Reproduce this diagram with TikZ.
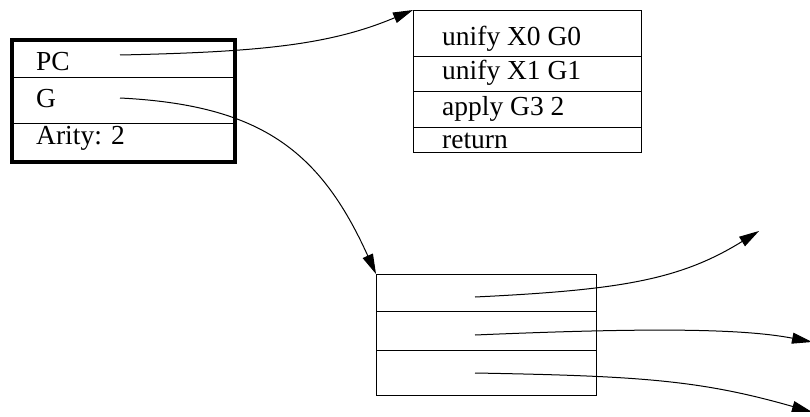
\documentclass[tikz,border=0pt]{standalone}
\usepackage{fontspec}
\setmainfont{Liberation Serif}
\usetikzlibrary{arrows.meta}
\begin{document}
\begin{tikzpicture}[x=1pt,y=-1pt,
  cell/.style={draw,line width=1pt,inner sep=0pt,anchor=north west},
  txt/.style={anchor=base west,inner sep=0pt,font=\fontsize{27.5}{30}\selectfont},
  link/.style={line width=1pt,-{Triangle[length=20pt,width=11pt]}}]
\useasboundingbox (0,0) rectangle (810,417);
% left frame
\node[cell,minimum width=222pt,minimum height=37pt] (pc) at (12,40) {};
\node[cell,minimum width=222pt,minimum height=46pt] (g) at (12,77) {};
\node[cell,minimum width=222pt,minimum height=38pt] (ar) at (12,123) {};
\draw[line width=4pt] (pc.north west) rectangle (ar.south east);
\node[txt] (tpc) at (36,71) {PC};
\node[txt] (tg) at (36,107) {G};
\node[txt] (tar) at (36,144) {Arity: 2};
\coordinate (spc) at (120,55);
\coordinate (sg) at (120,98);
% code block
\node[cell,minimum width=228pt,minimum height=46pt] (c1) at (413,10) {};
\node[cell,minimum width=228pt,minimum height=35pt] (c2) at (413,56) {};
\node[cell,minimum width=228pt,minimum height=36pt] (c3) at (413,91) {};
\node[cell,minimum width=228pt,minimum height=25pt] (c4) at (413,127) {};
\node[txt] (t1) at (442,46) {unify X0 G0};
\node[txt] (t2) at (442,80) {unify X1 G1};
\node[txt] (t3) at (442,115) {apply G3 2};
\node[txt] (t4) at (442,148) {return};
% bottom block
\node[cell,minimum width=220pt,minimum height=37pt] (b1) at (376,274) {};
\node[cell,minimum width=220pt,minimum height=39pt] (b2) at (376,311) {};
\node[cell,minimum width=220pt,minimum height=45pt] (b3) at (376,350) {};
\coordinate (s1) at (475,297);
\coordinate (s2) at (475,335);
\coordinate (s3) at (475,373);
\coordinate (e1) at (759,231);
\coordinate (e2) at (812,342);
\coordinate (e3) at (812,412);
% links
\draw[link] (spc) .. controls (260,52) and (330,45) .. (c1.north west);
\draw[link] (sg) .. controls (260,105) and (320,150) .. (b1.north west);
\draw[link] (s1) .. controls (620,290) and (680,280) .. (e1);
\draw[link] (s2) .. controls (640,328) and (740,328) .. (e2);
\draw[link] (s3) .. controls (640,376) and (700,380) .. (e3);
\end{tikzpicture}
\end{document}
